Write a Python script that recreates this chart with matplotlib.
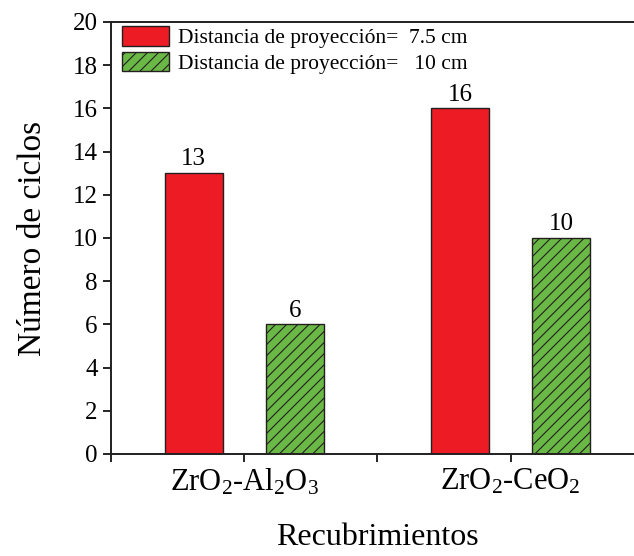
import matplotlib.pyplot as plt
import numpy as np

coatings = [r"$\mathregular{ZrO_2}$-$\mathregular{Al_2O_3}$",
            r"$\mathregular{ZrO_2}$-$\mathregular{CeO_2}$"]
cycles_75 = [13, 16]
cycles_10 = [6, 10]
labels = ["Distancia de proyección=  7.5 cm", "Distancia de proyección=   10 cm"]

plt.rcParams["font.family"] = ["Liberation Serif", "DejaVu Serif"]
plt.rcParams["mathtext.fontset"] = "custom"
plt.rcParams["mathtext.rm"] = "Liberation Serif"
plt.rcParams["hatch.linewidth"] = 0.8

fig = plt.figure(figsize=(6.34, 5.56), dpi=100)
ax = fig.add_axes([0.175, 0.1835, 0.8407, 0.777])

x = np.arange(1, len(coatings) + 1)
offset = 0.19
width = 0.218

bars1 = ax.bar(x - offset, cycles_75, width, color="#ed1c24",
               edgecolor="#231f20", linewidth=1.0, label=labels[0])
bars2 = ax.bar(x + offset, cycles_10, width, color="#6ab845",
               edgecolor="#231f20", linewidth=1.0, hatch="///", label=labels[1])
ax.bar_label(bars1, fontsize=18, padding=2)
ax.bar_label(bars2, fontsize=18, padding=2)

ax.set_xlim(0.5, 2.5)
ax.set_ylim(0, 20)
ax.set_yticks(np.arange(0, 21, 2))
ax.set_xticks(x)
ax.set_xticklabels(coatings, fontsize=22)
ax.set_xticks([0.5, 1.5, 2.5], minor=True)
ax.tick_params(axis="y", labelsize=18, length=6, width=1.2, direction="out")
ax.tick_params(axis="x", which="both", length=6, width=1.2, direction="out")

for side in ["left", "bottom", "top"]:
    ax.spines[side].set_linewidth(1.4)
    ax.spines[side].set_color("#231f20")

ax.set_ylabel("Número de ciclos", fontsize=24, labelpad=18)
ax.set_xlabel("Recubrimientos", fontsize=23, labelpad=18)

ax.legend(loc="upper left", frameon=False, fontsize=15.5, handlelength=2.2,
          handleheight=1.0, borderaxespad=0.0, borderpad=0.2, labelspacing=0.15,
          handletextpad=0.4, bbox_to_anchor=(0.012, 1.0))

fig.savefig("out.png", dpi=100)
